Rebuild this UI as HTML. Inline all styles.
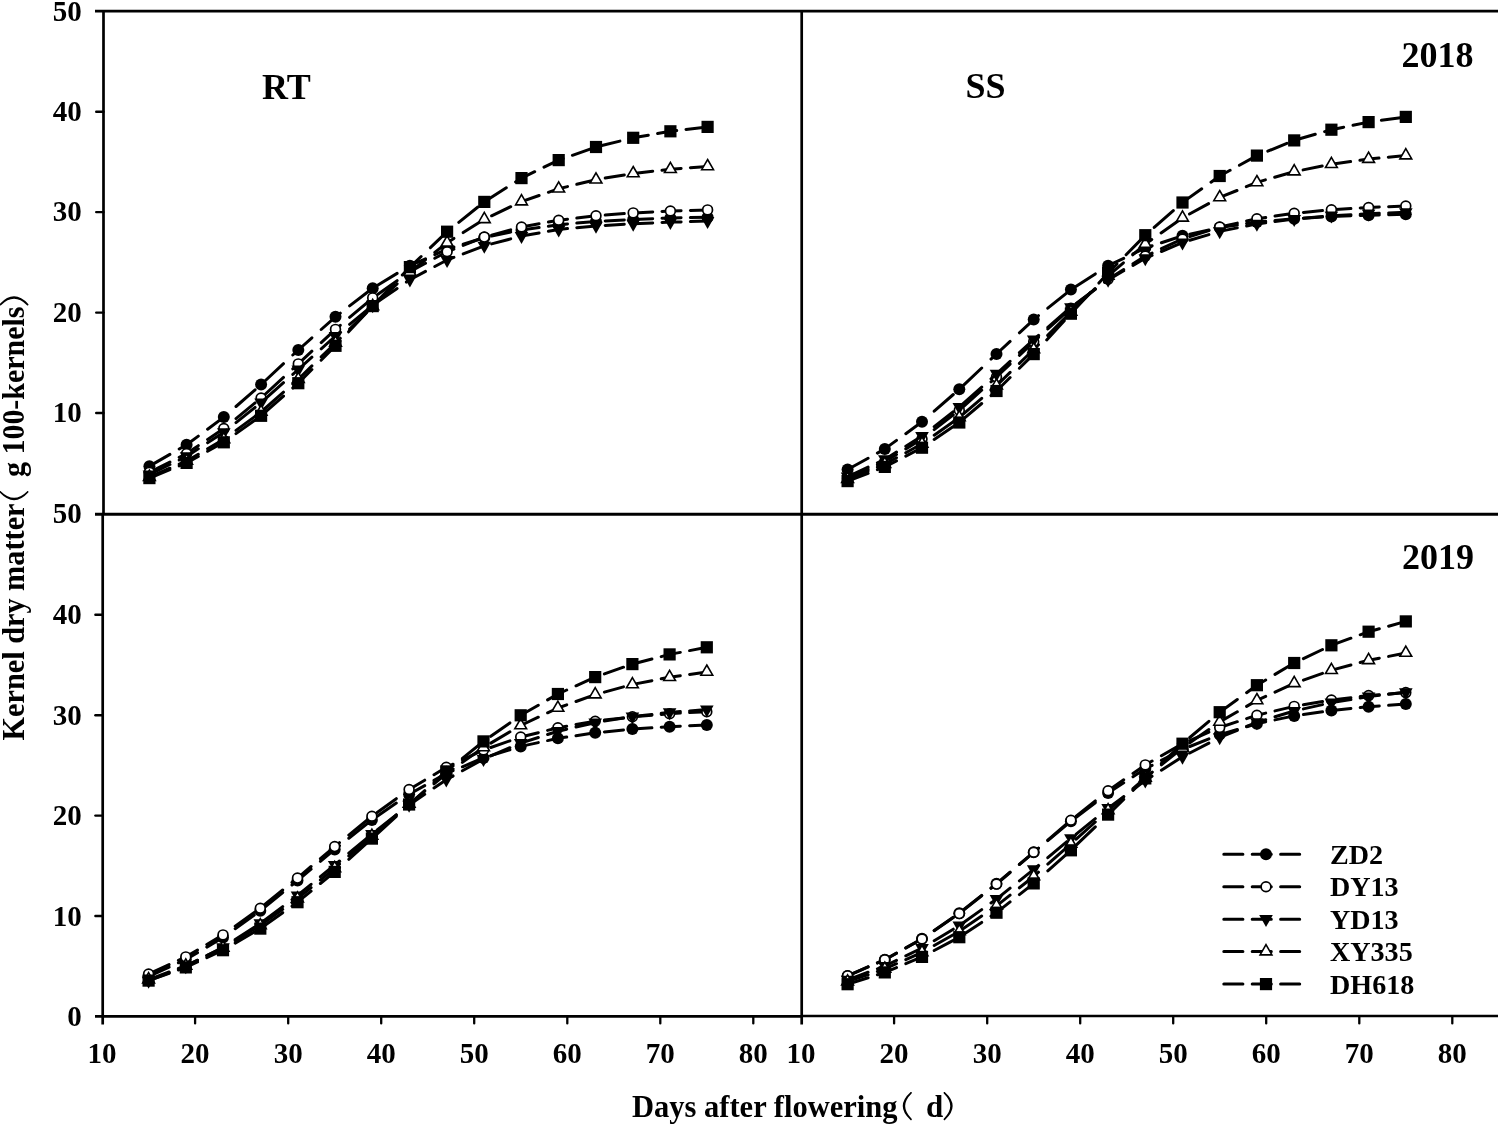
<!DOCTYPE html>
<html><head><meta charset="utf-8"><title>Kernel dry matter</title><style>html,body{margin:0;padding:0;background:#fff}svg{display:block;will-change:transform;filter:grayscale(1)}text{font-family:'Liberation Serif',serif;font-weight:bold;fill:#000}</style></head><body>
<svg width="1498" height="1124" viewBox="0 0 1498 1124">
<rect width="1498" height="1124" fill="#fff"/>
<g stroke="#000" stroke-width="2.7" fill="none" stroke-linecap="butt">
<line x1="95" y1="11.2" x2="1498" y2="11.2"/>
<line x1="95" y1="514.3" x2="1498" y2="514.3" stroke-width="3"/>
<line x1="95" y1="1016.4" x2="801.7" y2="1016.4"/>
<line x1="801.7" y1="1016" x2="1498" y2="1016" stroke-width="2.5"/>
<line x1="103.5" y1="9.9" x2="103.5" y2="514.3"/>
<line x1="102.7" y1="513" x2="102.7" y2="1024.5"/>
<line x1="801.7" y1="9.9" x2="801.7" y2="1024.5"/>
<line x1="96.2" y1="413.0" x2="103.5" y2="413.0" stroke-width="2.4" stroke-linecap="round"/>
<line x1="95.4" y1="916.0" x2="102.7" y2="916.0" stroke-width="2.4" stroke-linecap="round"/>
<line x1="96.2" y1="312.6" x2="103.5" y2="312.6" stroke-width="2.4" stroke-linecap="round"/>
<line x1="95.4" y1="815.6" x2="102.7" y2="815.6" stroke-width="2.4" stroke-linecap="round"/>
<line x1="96.2" y1="212.1" x2="103.5" y2="212.1" stroke-width="2.4" stroke-linecap="round"/>
<line x1="95.4" y1="715.2" x2="102.7" y2="715.2" stroke-width="2.4" stroke-linecap="round"/>
<line x1="96.2" y1="111.7" x2="103.5" y2="111.7" stroke-width="2.4" stroke-linecap="round"/>
<line x1="95.4" y1="614.8" x2="102.7" y2="614.8" stroke-width="2.4" stroke-linecap="round"/>
<line x1="195.1" y1="1016.4" x2="195.1" y2="1023.4" stroke-width="2.3" stroke-linecap="round"/>
<line x1="288.2" y1="1016.4" x2="288.2" y2="1023.4" stroke-width="2.3" stroke-linecap="round"/>
<line x1="381.2" y1="1016.4" x2="381.2" y2="1023.4" stroke-width="2.3" stroke-linecap="round"/>
<line x1="474.2" y1="1016.4" x2="474.2" y2="1023.4" stroke-width="2.3" stroke-linecap="round"/>
<line x1="567.3" y1="1016.4" x2="567.3" y2="1023.4" stroke-width="2.3" stroke-linecap="round"/>
<line x1="660.3" y1="1016.4" x2="660.3" y2="1023.4" stroke-width="2.3" stroke-linecap="round"/>
<line x1="753.3" y1="1016.4" x2="753.3" y2="1023.4" stroke-width="2.3" stroke-linecap="round"/>
<line x1="894.1" y1="1016.4" x2="894.1" y2="1023.4" stroke-width="2.3" stroke-linecap="round"/>
<line x1="987.2" y1="1016.4" x2="987.2" y2="1023.4" stroke-width="2.3" stroke-linecap="round"/>
<line x1="1080.2" y1="1016.4" x2="1080.2" y2="1023.4" stroke-width="2.3" stroke-linecap="round"/>
<line x1="1173.2" y1="1016.4" x2="1173.2" y2="1023.4" stroke-width="2.3" stroke-linecap="round"/>
<line x1="1266.2" y1="1016.4" x2="1266.2" y2="1023.4" stroke-width="2.3" stroke-linecap="round"/>
<line x1="1359.3" y1="1016.4" x2="1359.3" y2="1023.4" stroke-width="2.3" stroke-linecap="round"/>
<line x1="1452.3" y1="1016.4" x2="1452.3" y2="1023.4" stroke-width="2.3" stroke-linecap="round"/>
</g>
<g font-size="29" text-anchor="end">
<text x="81.8" y="20.5">50</text>
<text x="81.8" y="121.0">40</text>
<text x="81.8" y="221.4">30</text>
<text x="81.8" y="321.9">20</text>
<text x="81.8" y="422.3">10</text>
<text x="81.8" y="523.2">50</text>
<text x="81.8" y="624.3">40</text>
<text x="81.8" y="724.7">30</text>
<text x="81.8" y="825.1">20</text>
<text x="81.8" y="925.5">10</text>
<text x="81.8" y="1025.9">0</text>
</g>
<g font-size="29" text-anchor="middle">
<text x="102.1" y="1062.8">10</text>
<text x="195.1" y="1062.8">20</text>
<text x="288.2" y="1062.8">30</text>
<text x="381.2" y="1062.8">40</text>
<text x="474.2" y="1062.8">50</text>
<text x="567.3" y="1062.8">60</text>
<text x="660.3" y="1062.8">70</text>
<text x="753.3" y="1062.8">80</text>
<text x="801.1" y="1062.8">10</text>
<text x="894.1" y="1062.8">20</text>
<text x="987.2" y="1062.8">30</text>
<text x="1080.2" y="1062.8">40</text>
<text x="1173.2" y="1062.8">50</text>
<text x="1266.2" y="1062.8">60</text>
<text x="1359.3" y="1062.8">70</text>
<text x="1452.3" y="1062.8">80</text>
</g>
<g font-size="36">
<text x="262" y="98.7">RT</text>
<text x="965.5" y="98.2">SS</text>
<text x="1401.5" y="66.5">2018</text>
<text x="1402" y="568.5">2019</text>
</g>
<g font-size="31">
<text x="632" y="1117.3" textLength="265.5" lengthAdjust="spacingAndGlyphs">Days after flowering</text>
<text x="926" y="1117.3">d</text>
<path d="M911 1092.8 Q896.2 1106 911 1119.3 M911 1092.8 Q897.6 1106 911 1119.3 M944.4 1092.8 Q959.2 1106 944.4 1119.3 M944.4 1092.8 Q957.8 1106 944.4 1119.3" fill="none" stroke="#000" stroke-width="1.7" stroke-linecap="round"/>
<g transform="translate(23.6,0) rotate(-90)">
<text x="-740.5" y="0" textLength="237" lengthAdjust="spacingAndGlyphs">Kernel dry matter</text>
<text x="-477" y="0" textLength="170.5" lengthAdjust="spacingAndGlyphs">g 100-kernels</text>
<path d="M-492 -23.2 Q-506.8 -9.5 -492 4 M-492 -23.2 Q-505.4 -9.5 -492 4 M-304.6 -23.2 Q-289.8 -9.5 -304.6 4 M-304.6 -23.2 Q-291.2 -9.5 -304.6 4" fill="none" stroke="#000" stroke-width="1.7" stroke-linecap="round"/>
</g></g>
<g>
<path d="M150.8 465.4L169.9 454.4M179.2 449.0L186.6 444.7L198.3 436.1M207.6 429.2L223.8 417.1L226.7 414.6M236.0 406.5L255.1 389.8M264.4 381.5L283.5 363.7M292.8 355.0L298.3 350.0L311.9 337.8M321.2 329.5L335.5 316.8L340.3 313.1M349.6 305.9L368.7 291.3M378.0 285.0L397.1 273.4M406.4 267.8L409.9 265.7L425.5 258.8M434.8 254.6L447.1 249.1L453.9 247.0M463.2 244.2L482.3 238.2M491.6 236.1L510.7 232.1M520.0 230.2L521.5 229.9L539.1 227.5M548.4 226.2L558.7 224.8L567.5 224.0M576.8 223.1L595.9 221.4M605.2 220.9L624.3 219.9M633.6 219.4L652.7 218.7M662.0 218.3L670.4 218.0L681.1 217.8M690.4 217.6L707.6 217.2" fill="none" stroke="#000" stroke-width="3.0" stroke-linecap="round" stroke-linejoin="round"/>
<circle cx="149.4" cy="466.2" r="6" fill="#000"/>
<circle cx="186.6" cy="444.7" r="6" fill="#000"/>
<circle cx="223.8" cy="417.1" r="6" fill="#000"/>
<circle cx="261.1" cy="384.6" r="6" fill="#000"/>
<circle cx="298.3" cy="350.0" r="6" fill="#000"/>
<circle cx="335.5" cy="316.8" r="6" fill="#000"/>
<circle cx="372.7" cy="288.2" r="6" fill="#000"/>
<circle cx="409.9" cy="265.7" r="6" fill="#000"/>
<circle cx="447.1" cy="249.1" r="6" fill="#000"/>
<circle cx="484.3" cy="237.6" r="6" fill="#000"/>
<circle cx="521.5" cy="229.9" r="6" fill="#000"/>
<circle cx="558.7" cy="224.8" r="6" fill="#000"/>
<circle cx="596.0" cy="221.4" r="6" fill="#000"/>
<circle cx="633.2" cy="219.4" r="6" fill="#000"/>
<circle cx="670.4" cy="218.0" r="6" fill="#000"/>
<circle cx="707.6" cy="217.2" r="6" fill="#000"/>
<path d="M150.8 471.7L169.9 462.0M179.2 457.3L186.6 453.6L198.3 445.7M207.6 439.5L223.8 428.6L226.7 426.2M236.0 418.6L255.1 402.9M264.4 395.0L283.5 377.4M292.8 368.9L298.3 363.9L311.9 351.2M321.2 342.6L335.5 329.4L340.3 325.3M349.6 317.4L368.7 301.3M378.0 294.2L397.1 280.7M406.4 274.2L409.9 271.7L425.5 263.3M434.8 258.3L447.1 251.7L453.9 249.0M463.2 245.4L482.3 237.9M491.6 235.1L510.7 229.9M520.0 227.4L521.5 227.0L539.1 223.8M548.4 222.1L558.7 220.2L567.5 219.2M576.8 218.1L595.9 215.8M605.2 215.1L624.3 213.6M633.6 212.9L652.7 211.9M662.0 211.4L670.4 211.0L681.1 210.7M690.4 210.4L707.6 209.9" fill="none" stroke="#000" stroke-width="3.0" stroke-linecap="round" stroke-linejoin="round"/>
<circle cx="149.4" cy="472.4" r="4.9" fill="#fff" stroke="#000" stroke-width="1.7"/>
<circle cx="186.6" cy="453.6" r="4.9" fill="#fff" stroke="#000" stroke-width="1.7"/>
<circle cx="223.8" cy="428.6" r="4.9" fill="#fff" stroke="#000" stroke-width="1.7"/>
<circle cx="261.1" cy="398.0" r="4.9" fill="#fff" stroke="#000" stroke-width="1.7"/>
<circle cx="298.3" cy="363.9" r="4.9" fill="#fff" stroke="#000" stroke-width="1.7"/>
<circle cx="335.5" cy="329.4" r="4.9" fill="#fff" stroke="#000" stroke-width="1.7"/>
<circle cx="372.7" cy="297.9" r="4.9" fill="#fff" stroke="#000" stroke-width="1.7"/>
<circle cx="409.9" cy="271.7" r="4.9" fill="#fff" stroke="#000" stroke-width="1.7"/>
<circle cx="447.1" cy="251.7" r="4.9" fill="#fff" stroke="#000" stroke-width="1.7"/>
<circle cx="484.3" cy="237.1" r="4.9" fill="#fff" stroke="#000" stroke-width="1.7"/>
<circle cx="521.5" cy="227.0" r="4.9" fill="#fff" stroke="#000" stroke-width="1.7"/>
<circle cx="558.7" cy="220.2" r="4.9" fill="#fff" stroke="#000" stroke-width="1.7"/>
<circle cx="596.0" cy="215.8" r="4.9" fill="#fff" stroke="#000" stroke-width="1.7"/>
<circle cx="633.2" cy="212.9" r="4.9" fill="#fff" stroke="#000" stroke-width="1.7"/>
<circle cx="670.4" cy="211.0" r="4.9" fill="#fff" stroke="#000" stroke-width="1.7"/>
<circle cx="707.6" cy="209.9" r="4.9" fill="#fff" stroke="#000" stroke-width="1.7"/>
<path d="M150.8 473.9L169.9 464.5M179.2 460.0L186.6 456.4L198.3 448.8M207.6 442.8L223.8 432.3L226.7 430.0M236.0 422.6L255.1 407.4M264.4 399.7L283.5 382.7M292.8 374.4L298.3 369.5L311.9 357.2M321.2 348.8L335.5 336.0L340.3 332.0M349.6 324.3L368.7 308.6M378.0 301.6L397.1 288.5M406.4 282.1L409.9 279.7L425.5 271.4M434.8 266.5L447.1 260.0L453.9 257.4M463.2 253.9L482.3 246.6M491.6 243.9L510.7 238.9M520.0 236.4L521.5 236.0L539.1 232.9M548.4 231.3L558.7 229.5L567.5 228.6M576.8 227.7L595.9 225.9M605.2 225.4L624.3 224.3M633.6 223.8L652.7 223.0M662.0 222.5L670.4 222.1L681.1 221.9M690.4 221.6L707.6 221.1" fill="none" stroke="#000" stroke-width="3.0" stroke-linecap="round" stroke-linejoin="round"/>
<path d="M142.6 470.4L156.2 470.4L149.4 482.4Z" fill="#000"/>
<path d="M179.8 452.3L193.4 452.3L186.6 464.3Z" fill="#000"/>
<path d="M217.0 428.2L230.6 428.2L223.8 440.2Z" fill="#000"/>
<path d="M254.3 398.6L267.9 398.6L261.1 410.6Z" fill="#000"/>
<path d="M291.5 365.4L305.1 365.4L298.3 377.4Z" fill="#000"/>
<path d="M328.7 331.9L342.3 331.9L335.5 343.9Z" fill="#000"/>
<path d="M365.9 301.2L379.5 301.2L372.7 313.2Z" fill="#000"/>
<path d="M403.1 275.6L416.7 275.6L409.9 287.6Z" fill="#000"/>
<path d="M440.3 255.9L453.9 255.9L447.1 267.9Z" fill="#000"/>
<path d="M477.5 241.7L491.1 241.7L484.3 253.7Z" fill="#000"/>
<path d="M514.7 231.9L528.3 231.9L521.5 243.9Z" fill="#000"/>
<path d="M551.9 225.4L565.5 225.4L558.7 237.4Z" fill="#000"/>
<path d="M589.2 221.8L602.8 221.8L596.0 233.8Z" fill="#000"/>
<path d="M626.4 219.7L640.0 219.7L633.2 231.7Z" fill="#000"/>
<path d="M663.6 218.0L677.2 218.0L670.4 230.0Z" fill="#000"/>
<path d="M700.8 217.0L714.4 217.0L707.6 229.0Z" fill="#000"/>
<path d="M150.8 476.5L169.9 468.2M179.2 464.2L186.6 461.0L198.3 454.2M207.6 448.8L223.8 439.4L226.7 437.3M236.0 430.4L255.1 416.4M264.4 409.0L283.5 392.2M292.8 384.0L298.3 379.2L311.9 365.9M321.2 356.9L335.5 343.0L340.3 338.2M349.6 329.1L368.7 310.2M378.0 301.4L397.1 283.8M406.4 275.2L409.9 272.0L425.5 259.7M434.8 252.4L447.1 242.7L453.9 238.4M463.2 232.6L482.3 220.6M491.6 215.8L510.7 206.7M520.0 202.3L521.5 201.6L539.1 195.5M548.4 192.3L558.7 188.7L567.5 186.6M576.8 184.3L595.9 179.7M605.2 178.1L624.3 174.9M633.6 173.4L652.7 171.2M662.0 170.2L670.4 169.2L681.1 168.4M690.4 167.7L707.6 166.4" fill="none" stroke="#000" stroke-width="3.0" stroke-linecap="round" stroke-linejoin="round"/>
<path d="M149.4 470.2L155.3 480.4L143.5 480.4Z" fill="#fff" stroke="#000" stroke-width="1.6" stroke-linejoin="miter"/>
<path d="M186.6 454.1L192.5 464.3L180.7 464.3Z" fill="#fff" stroke="#000" stroke-width="1.6" stroke-linejoin="miter"/>
<path d="M223.8 432.5L229.7 442.7L217.9 442.7Z" fill="#fff" stroke="#000" stroke-width="1.6" stroke-linejoin="miter"/>
<path d="M261.1 405.1L267.0 415.3L255.2 415.3Z" fill="#fff" stroke="#000" stroke-width="1.6" stroke-linejoin="miter"/>
<path d="M298.3 372.3L304.2 382.5L292.4 382.5Z" fill="#fff" stroke="#000" stroke-width="1.6" stroke-linejoin="miter"/>
<path d="M335.5 336.1L341.4 346.3L329.6 346.3Z" fill="#fff" stroke="#000" stroke-width="1.6" stroke-linejoin="miter"/>
<path d="M372.7 299.4L378.6 309.6L366.8 309.6Z" fill="#fff" stroke="#000" stroke-width="1.6" stroke-linejoin="miter"/>
<path d="M409.9 265.1L415.8 275.3L404.0 275.3Z" fill="#fff" stroke="#000" stroke-width="1.6" stroke-linejoin="miter"/>
<path d="M447.1 235.8L453.0 246.0L441.2 246.0Z" fill="#fff" stroke="#000" stroke-width="1.6" stroke-linejoin="miter"/>
<path d="M484.3 212.4L490.2 222.6L478.4 222.6Z" fill="#fff" stroke="#000" stroke-width="1.6" stroke-linejoin="miter"/>
<path d="M521.5 194.7L527.4 204.9L515.6 204.9Z" fill="#fff" stroke="#000" stroke-width="1.6" stroke-linejoin="miter"/>
<path d="M558.7 181.8L564.6 192.0L552.8 192.0Z" fill="#fff" stroke="#000" stroke-width="1.6" stroke-linejoin="miter"/>
<path d="M596.0 172.8L601.9 183.0L590.1 183.0Z" fill="#fff" stroke="#000" stroke-width="1.6" stroke-linejoin="miter"/>
<path d="M633.2 166.5L639.1 176.7L627.3 176.7Z" fill="#fff" stroke="#000" stroke-width="1.6" stroke-linejoin="miter"/>
<path d="M670.4 162.3L676.3 172.5L664.5 172.5Z" fill="#fff" stroke="#000" stroke-width="1.6" stroke-linejoin="miter"/>
<path d="M707.6 159.5L713.5 169.7L701.7 169.7Z" fill="#fff" stroke="#000" stroke-width="1.6" stroke-linejoin="miter"/>
<path d="M150.8 477.5L169.9 469.7M179.2 465.9L186.6 462.9L198.3 456.4M207.6 451.3L223.8 442.3L226.7 440.3M236.0 433.6L255.1 420.0M264.4 412.9L283.5 396.1M292.8 388.0L298.3 383.2L311.9 369.5M321.1 360.2L335.5 345.8L339.9 341.1M348.6 331.8L366.5 312.7M375.2 303.4L393.5 284.3M402.3 275.0L409.9 267.1L421.1 256.5M430.4 247.6L447.1 231.7L449.5 229.8M458.8 222.3L477.9 207.0M487.2 200.0L506.3 187.8M515.6 181.9L521.5 178.1L534.7 171.7M544.0 167.2L558.7 160.1L563.1 158.6M572.4 155.3L591.5 148.6M600.8 145.8L619.9 141.1M629.2 138.8L633.2 137.8L648.3 135.2M657.6 133.5L670.4 131.3L676.7 130.5M686.0 129.4L705.1 127.2" fill="none" stroke="#000" stroke-width="3.0" stroke-linecap="round" stroke-linejoin="round"/>
<rect x="143.3" y="472.0" width="12.2" height="12.2" fill="#000"/>
<rect x="180.5" y="456.8" width="12.2" height="12.2" fill="#000"/>
<rect x="217.7" y="436.2" width="12.2" height="12.2" fill="#000"/>
<rect x="255.0" y="409.7" width="12.2" height="12.2" fill="#000"/>
<rect x="292.2" y="377.1" width="12.2" height="12.2" fill="#000"/>
<rect x="329.4" y="339.7" width="12.2" height="12.2" fill="#000"/>
<rect x="366.6" y="300.0" width="12.2" height="12.2" fill="#000"/>
<rect x="403.8" y="261.0" width="12.2" height="12.2" fill="#000"/>
<rect x="441.0" y="225.6" width="12.2" height="12.2" fill="#000"/>
<rect x="478.2" y="195.8" width="12.2" height="12.2" fill="#000"/>
<rect x="515.4" y="172.0" width="12.2" height="12.2" fill="#000"/>
<rect x="552.6" y="154.0" width="12.2" height="12.2" fill="#000"/>
<rect x="589.9" y="140.9" width="12.2" height="12.2" fill="#000"/>
<rect x="627.1" y="131.7" width="12.2" height="12.2" fill="#000"/>
<rect x="664.3" y="125.2" width="12.2" height="12.2" fill="#000"/>
<rect x="701.5" y="120.8" width="12.2" height="12.2" fill="#000"/>
</g>
<g>
<path d="M849.0 468.8L868.1 458.2M877.4 453.1L884.8 448.9L896.5 440.4M905.8 433.7L922.0 421.8L924.9 419.3M934.2 411.2L953.3 394.5M962.6 386.1L981.7 368.0M991.0 359.1L996.5 354.0L1010.1 341.4M1019.4 332.8L1033.7 319.6L1038.5 315.7M1047.8 308.2L1066.9 292.8M1076.2 286.2L1095.3 273.9M1104.6 268.0L1108.1 265.7L1123.7 258.3M1133.0 253.9L1145.3 248.0L1152.1 245.8M1161.4 242.7L1180.5 236.5M1189.8 234.2L1208.9 230.0M1218.2 227.9L1219.7 227.6L1237.3 225.0M1246.6 223.6L1256.9 222.1L1265.7 221.3M1275.0 220.5L1294.1 218.7M1303.4 218.2L1322.5 217.0M1331.8 216.5L1350.9 215.8M1360.2 215.5L1368.6 215.2L1379.3 215.0M1388.6 214.7L1405.8 214.3" fill="none" stroke="#000" stroke-width="3.0" stroke-linecap="round" stroke-linejoin="round"/>
<circle cx="847.6" cy="469.6" r="6" fill="#000"/>
<circle cx="884.8" cy="448.9" r="6" fill="#000"/>
<circle cx="922.0" cy="421.8" r="6" fill="#000"/>
<circle cx="959.3" cy="389.3" r="6" fill="#000"/>
<circle cx="996.5" cy="354.0" r="6" fill="#000"/>
<circle cx="1033.7" cy="319.6" r="6" fill="#000"/>
<circle cx="1070.9" cy="289.6" r="6" fill="#000"/>
<circle cx="1108.1" cy="265.7" r="6" fill="#000"/>
<circle cx="1145.3" cy="248.0" r="6" fill="#000"/>
<circle cx="1182.5" cy="235.8" r="6" fill="#000"/>
<circle cx="1219.7" cy="227.6" r="6" fill="#000"/>
<circle cx="1256.9" cy="222.1" r="6" fill="#000"/>
<circle cx="1294.2" cy="218.7" r="6" fill="#000"/>
<circle cx="1331.4" cy="216.5" r="6" fill="#000"/>
<circle cx="1368.6" cy="215.2" r="6" fill="#000"/>
<circle cx="1405.8" cy="214.3" r="6" fill="#000"/>
<path d="M849.0 477.7L868.1 469.1M877.4 464.9L884.8 461.6L896.5 454.5M905.8 448.9L922.0 439.0L924.9 436.8M934.2 429.6L953.3 414.9M962.6 407.3L981.7 390.2M991.0 381.8L996.5 377.0L1010.1 364.1M1019.4 355.3L1033.7 341.8L1038.5 337.4M1047.8 329.0L1066.9 311.8M1076.2 304.0L1095.3 289.1M1104.6 281.9L1108.1 279.2L1123.7 269.5M1133.0 263.7L1145.3 256.1L1152.1 253.0M1161.4 248.7L1180.5 239.9M1189.8 236.6L1208.9 230.5M1218.2 227.5L1219.7 227.0L1237.3 223.1M1246.6 221.0L1256.9 218.7L1265.7 217.5M1275.0 216.1L1294.1 213.3M1303.4 212.4L1322.5 210.6M1331.8 209.8L1350.9 208.6M1360.2 208.0L1368.6 207.5L1379.3 207.0M1388.6 206.7L1405.8 206.0" fill="none" stroke="#000" stroke-width="3.0" stroke-linecap="round" stroke-linejoin="round"/>
<circle cx="847.6" cy="478.4" r="4.9" fill="#fff" stroke="#000" stroke-width="1.7"/>
<circle cx="884.8" cy="461.6" r="4.9" fill="#fff" stroke="#000" stroke-width="1.7"/>
<circle cx="922.0" cy="439.0" r="4.9" fill="#fff" stroke="#000" stroke-width="1.7"/>
<circle cx="959.3" cy="410.3" r="4.9" fill="#fff" stroke="#000" stroke-width="1.7"/>
<circle cx="996.5" cy="377.0" r="4.9" fill="#fff" stroke="#000" stroke-width="1.7"/>
<circle cx="1033.7" cy="341.8" r="4.9" fill="#fff" stroke="#000" stroke-width="1.7"/>
<circle cx="1070.9" cy="308.2" r="4.9" fill="#fff" stroke="#000" stroke-width="1.7"/>
<circle cx="1108.1" cy="279.2" r="4.9" fill="#fff" stroke="#000" stroke-width="1.7"/>
<circle cx="1145.3" cy="256.1" r="4.9" fill="#fff" stroke="#000" stroke-width="1.7"/>
<circle cx="1182.5" cy="239.0" r="4.9" fill="#fff" stroke="#000" stroke-width="1.7"/>
<circle cx="1219.7" cy="227.0" r="4.9" fill="#fff" stroke="#000" stroke-width="1.7"/>
<circle cx="1256.9" cy="218.7" r="4.9" fill="#fff" stroke="#000" stroke-width="1.7"/>
<circle cx="1294.2" cy="213.3" r="4.9" fill="#fff" stroke="#000" stroke-width="1.7"/>
<circle cx="1331.4" cy="209.8" r="4.9" fill="#fff" stroke="#000" stroke-width="1.7"/>
<circle cx="1368.6" cy="207.5" r="4.9" fill="#fff" stroke="#000" stroke-width="1.7"/>
<circle cx="1405.8" cy="206.0" r="4.9" fill="#fff" stroke="#000" stroke-width="1.7"/>
<path d="M849.0 476.0L868.1 467.1M877.4 462.8L884.8 459.4L896.5 452.1M905.8 446.2L922.0 436.1L924.9 433.9M934.2 426.6L953.3 411.8M962.6 404.2L981.7 387.1M991.0 378.8L996.5 373.9L1010.1 361.3M1019.4 352.7L1033.7 339.5L1038.5 335.3M1047.8 327.3L1066.9 310.7M1076.2 303.4L1095.3 289.3M1104.6 282.4L1108.1 279.9L1123.7 270.8M1133.0 265.4L1145.3 258.3L1152.1 255.4M1161.4 251.5L1180.5 243.4M1189.8 240.3L1208.9 234.6M1218.2 231.8L1219.7 231.4L1237.3 227.9M1246.6 226.0L1256.9 223.9L1265.7 222.8M1275.0 221.6L1294.1 219.0M1303.4 218.2L1322.5 216.5M1331.8 215.7L1350.9 214.7M1360.2 214.2L1368.6 213.7L1379.3 213.3M1388.6 213.0L1405.8 212.3" fill="none" stroke="#000" stroke-width="3.0" stroke-linecap="round" stroke-linejoin="round"/>
<path d="M840.8 472.6L854.4 472.6L847.6 484.6Z" fill="#000"/>
<path d="M878.0 455.3L891.6 455.3L884.8 467.3Z" fill="#000"/>
<path d="M915.2 432.0L928.8 432.0L922.0 444.0Z" fill="#000"/>
<path d="M952.5 403.1L966.1 403.1L959.3 415.1Z" fill="#000"/>
<path d="M989.7 369.8L1003.3 369.8L996.5 381.8Z" fill="#000"/>
<path d="M1026.9 335.4L1040.5 335.4L1033.7 347.4Z" fill="#000"/>
<path d="M1064.1 303.2L1077.7 303.2L1070.9 315.2Z" fill="#000"/>
<path d="M1101.3 275.8L1114.9 275.8L1108.1 287.8Z" fill="#000"/>
<path d="M1138.5 254.2L1152.1 254.2L1145.3 266.2Z" fill="#000"/>
<path d="M1175.7 238.4L1189.3 238.4L1182.5 250.4Z" fill="#000"/>
<path d="M1212.9 227.3L1226.5 227.3L1219.7 239.3Z" fill="#000"/>
<path d="M1250.1 219.8L1263.7 219.8L1256.9 231.8Z" fill="#000"/>
<path d="M1287.4 214.9L1301.0 214.9L1294.2 226.9Z" fill="#000"/>
<path d="M1324.6 211.6L1338.2 211.6L1331.4 223.6Z" fill="#000"/>
<path d="M1361.8 209.6L1375.4 209.6L1368.6 221.6Z" fill="#000"/>
<path d="M1399.0 208.2L1412.6 208.2L1405.8 220.2Z" fill="#000"/>
<path d="M849.0 478.6L868.1 470.9M877.4 467.1L884.8 464.1L896.5 457.7M905.8 452.7L922.0 443.8L924.9 441.8M934.2 435.2L953.3 421.7M962.6 414.6L981.7 398.3M991.0 390.4L996.5 385.7L1010.1 372.4M1019.4 363.4L1033.7 349.5L1038.5 344.7M1047.7 335.4L1066.6 316.3M1075.9 307.2L1095.0 288.6M1104.3 279.6L1108.1 275.9L1123.4 262.8M1132.7 254.8L1145.3 244.0L1151.8 239.5M1161.1 232.9L1180.2 219.5M1189.5 214.0L1208.6 203.6M1217.9 198.5L1219.7 197.4L1237.0 190.5M1246.3 186.7L1256.9 182.4L1265.4 179.9M1274.7 177.3L1293.8 171.8M1303.1 169.9L1322.2 166.0M1331.5 164.2L1350.6 161.6M1359.9 160.3L1368.6 159.1L1379.0 158.1M1388.3 157.2L1405.8 155.6" fill="none" stroke="#000" stroke-width="3.0" stroke-linecap="round" stroke-linejoin="round"/>
<path d="M847.6 472.3L853.5 482.5L841.7 482.5Z" fill="#fff" stroke="#000" stroke-width="1.6" stroke-linejoin="miter"/>
<path d="M884.8 457.2L890.7 467.4L878.9 467.4Z" fill="#fff" stroke="#000" stroke-width="1.6" stroke-linejoin="miter"/>
<path d="M922.0 436.9L927.9 447.1L916.1 447.1Z" fill="#fff" stroke="#000" stroke-width="1.6" stroke-linejoin="miter"/>
<path d="M959.3 410.6L965.2 420.8L953.4 420.8Z" fill="#fff" stroke="#000" stroke-width="1.6" stroke-linejoin="miter"/>
<path d="M996.5 378.8L1002.4 389.0L990.6 389.0Z" fill="#fff" stroke="#000" stroke-width="1.6" stroke-linejoin="miter"/>
<path d="M1033.7 342.6L1039.6 352.8L1027.8 352.8Z" fill="#fff" stroke="#000" stroke-width="1.6" stroke-linejoin="miter"/>
<path d="M1070.9 305.1L1076.8 315.3L1065.0 315.3Z" fill="#fff" stroke="#000" stroke-width="1.6" stroke-linejoin="miter"/>
<path d="M1108.1 269.0L1114.0 279.2L1102.2 279.2Z" fill="#fff" stroke="#000" stroke-width="1.6" stroke-linejoin="miter"/>
<path d="M1145.3 237.1L1151.2 247.3L1139.4 247.3Z" fill="#fff" stroke="#000" stroke-width="1.6" stroke-linejoin="miter"/>
<path d="M1182.5 210.9L1188.4 221.1L1176.6 221.1Z" fill="#fff" stroke="#000" stroke-width="1.6" stroke-linejoin="miter"/>
<path d="M1219.7 190.5L1225.6 200.7L1213.8 200.7Z" fill="#fff" stroke="#000" stroke-width="1.6" stroke-linejoin="miter"/>
<path d="M1256.9 175.5L1262.8 185.7L1251.0 185.7Z" fill="#fff" stroke="#000" stroke-width="1.6" stroke-linejoin="miter"/>
<path d="M1294.2 164.7L1300.1 174.9L1288.3 174.9Z" fill="#fff" stroke="#000" stroke-width="1.6" stroke-linejoin="miter"/>
<path d="M1331.4 157.3L1337.3 167.5L1325.5 167.5Z" fill="#fff" stroke="#000" stroke-width="1.6" stroke-linejoin="miter"/>
<path d="M1368.6 152.2L1374.5 162.4L1362.7 162.4Z" fill="#fff" stroke="#000" stroke-width="1.6" stroke-linejoin="miter"/>
<path d="M1405.8 148.7L1411.7 158.9L1399.9 158.9Z" fill="#fff" stroke="#000" stroke-width="1.6" stroke-linejoin="miter"/>
<path d="M849.0 480.5L868.1 473.3M877.4 469.7L884.8 466.9L896.5 460.9M905.8 456.1L922.0 447.7L924.9 445.8M934.2 439.5L953.3 426.6M962.6 419.7L981.7 403.5M991.0 395.6L996.5 391.0L1010.1 377.5M1019.4 368.2L1033.7 354.1L1038.1 349.2M1046.7 339.9L1064.3 320.8M1072.9 311.5L1090.4 292.4M1098.9 283.1L1108.1 273.0L1117.0 264.0M1126.1 254.7L1144.9 235.6M1154.2 227.4L1173.3 210.6M1182.6 202.4L1201.7 188.8M1211.0 182.2L1219.7 176.0L1230.1 170.3M1239.4 165.2L1256.9 155.6L1258.5 155.0M1267.8 151.2L1286.9 143.4M1296.2 139.8L1315.3 134.3M1324.6 131.6L1331.4 129.7L1343.7 127.2M1353.0 125.3L1368.6 122.1L1372.1 121.7M1381.4 120.3L1400.5 117.7" fill="none" stroke="#000" stroke-width="3.0" stroke-linecap="round" stroke-linejoin="round"/>
<rect x="841.5" y="475.0" width="12.2" height="12.2" fill="#000"/>
<rect x="878.7" y="460.8" width="12.2" height="12.2" fill="#000"/>
<rect x="915.9" y="441.6" width="12.2" height="12.2" fill="#000"/>
<rect x="953.2" y="416.4" width="12.2" height="12.2" fill="#000"/>
<rect x="990.4" y="384.9" width="12.2" height="12.2" fill="#000"/>
<rect x="1027.6" y="348.0" width="12.2" height="12.2" fill="#000"/>
<rect x="1064.8" y="307.6" width="12.2" height="12.2" fill="#000"/>
<rect x="1102.0" y="266.9" width="12.2" height="12.2" fill="#000"/>
<rect x="1139.2" y="229.1" width="12.2" height="12.2" fill="#000"/>
<rect x="1176.4" y="196.4" width="12.2" height="12.2" fill="#000"/>
<rect x="1213.6" y="169.9" width="12.2" height="12.2" fill="#000"/>
<rect x="1250.8" y="149.5" width="12.2" height="12.2" fill="#000"/>
<rect x="1288.1" y="134.3" width="12.2" height="12.2" fill="#000"/>
<rect x="1325.3" y="123.6" width="12.2" height="12.2" fill="#000"/>
<rect x="1362.5" y="116.0" width="12.2" height="12.2" fill="#000"/>
<rect x="1399.7" y="110.8" width="12.2" height="12.2" fill="#000"/>
</g>
<g>
<path d="M150.0 975.8L169.1 967.1M178.4 962.8L185.8 959.5L197.5 952.6M206.8 947.1L223.0 937.5L225.9 935.5M235.2 928.7L254.3 915.0M263.6 908.0L282.7 892.5M292.0 885.0L297.5 880.6L311.1 869.2M320.4 861.4L334.7 849.4L339.5 845.6M348.8 838.2L367.9 823.1M377.2 816.3L396.3 803.1M405.6 796.7L409.1 794.3L424.7 785.6M434.0 780.4L446.3 773.6L453.1 770.7M462.4 766.8L481.5 758.7M490.8 755.6L509.9 749.7M519.2 746.9L520.7 746.4L538.3 742.6M547.6 740.6L557.9 738.3L566.7 737.0M576.0 735.7L595.1 732.8M604.4 731.9L623.5 730.0M632.8 729.1L651.9 727.8M661.2 727.2L669.6 726.7L680.3 726.2M689.6 725.8L706.8 725.0" fill="none" stroke="#000" stroke-width="3.0" stroke-linecap="round" stroke-linejoin="round"/>
<circle cx="148.6" cy="976.5" r="6" fill="#000"/>
<circle cx="185.8" cy="959.5" r="6" fill="#000"/>
<circle cx="223.0" cy="937.5" r="6" fill="#000"/>
<circle cx="260.3" cy="910.7" r="6" fill="#000"/>
<circle cx="297.5" cy="880.6" r="6" fill="#000"/>
<circle cx="334.7" cy="849.4" r="6" fill="#000"/>
<circle cx="371.9" cy="819.9" r="6" fill="#000"/>
<circle cx="409.1" cy="794.3" r="6" fill="#000"/>
<circle cx="446.3" cy="773.6" r="6" fill="#000"/>
<circle cx="483.5" cy="757.9" r="6" fill="#000"/>
<circle cx="520.7" cy="746.4" r="6" fill="#000"/>
<circle cx="557.9" cy="738.3" r="6" fill="#000"/>
<circle cx="595.2" cy="732.8" r="6" fill="#000"/>
<circle cx="632.4" cy="729.1" r="6" fill="#000"/>
<circle cx="669.6" cy="726.7" r="6" fill="#000"/>
<circle cx="706.8" cy="725.0" r="6" fill="#000"/>
<path d="M150.0 973.4L169.1 964.6M178.4 960.4L185.8 956.9L197.5 950.0M206.8 944.5L223.0 934.9L225.9 932.8M235.2 926.2L254.3 912.4M263.6 905.4L282.7 890.0M292.0 882.5L297.5 878.1L311.1 866.5M320.4 858.7L334.7 846.6L339.5 842.7M348.8 835.1L367.9 819.5M377.2 812.5L396.3 798.7M405.6 792.1L409.1 789.5L424.7 780.2M434.0 774.7L446.3 767.3L453.1 764.2M462.4 759.8L481.5 750.9M490.8 747.5L509.9 740.8M519.2 737.6L520.7 737.0L538.3 732.7M547.6 730.4L557.9 727.8L566.7 726.2M576.0 724.6L595.1 721.2M604.4 720.1L623.5 717.9M632.8 716.8L651.9 715.2M661.2 714.4L669.6 713.7L680.3 713.1M689.6 712.6L706.8 711.7" fill="none" stroke="#000" stroke-width="3.0" stroke-linecap="round" stroke-linejoin="round"/>
<circle cx="148.6" cy="974.0" r="4.9" fill="#fff" stroke="#000" stroke-width="1.7"/>
<circle cx="185.8" cy="956.9" r="4.9" fill="#fff" stroke="#000" stroke-width="1.7"/>
<circle cx="223.0" cy="934.9" r="4.9" fill="#fff" stroke="#000" stroke-width="1.7"/>
<circle cx="260.3" cy="908.2" r="4.9" fill="#fff" stroke="#000" stroke-width="1.7"/>
<circle cx="297.5" cy="878.1" r="4.9" fill="#fff" stroke="#000" stroke-width="1.7"/>
<circle cx="334.7" cy="846.6" r="4.9" fill="#fff" stroke="#000" stroke-width="1.7"/>
<circle cx="371.9" cy="816.3" r="4.9" fill="#fff" stroke="#000" stroke-width="1.7"/>
<circle cx="409.1" cy="789.5" r="4.9" fill="#fff" stroke="#000" stroke-width="1.7"/>
<circle cx="446.3" cy="767.3" r="4.9" fill="#fff" stroke="#000" stroke-width="1.7"/>
<circle cx="483.5" cy="750.0" r="4.9" fill="#fff" stroke="#000" stroke-width="1.7"/>
<circle cx="520.7" cy="737.0" r="4.9" fill="#fff" stroke="#000" stroke-width="1.7"/>
<circle cx="557.9" cy="727.8" r="4.9" fill="#fff" stroke="#000" stroke-width="1.7"/>
<circle cx="595.2" cy="721.2" r="4.9" fill="#fff" stroke="#000" stroke-width="1.7"/>
<circle cx="632.4" cy="716.8" r="4.9" fill="#fff" stroke="#000" stroke-width="1.7"/>
<circle cx="669.6" cy="713.7" r="4.9" fill="#fff" stroke="#000" stroke-width="1.7"/>
<circle cx="706.8" cy="711.7" r="4.9" fill="#fff" stroke="#000" stroke-width="1.7"/>
<path d="M150.0 980.2L169.1 972.8M178.4 969.2L185.8 966.3L197.5 960.3M206.8 955.6L223.0 947.3L225.9 945.4M235.2 939.5L254.3 927.3M263.6 920.9L282.7 906.6M292.0 899.6L297.5 895.5L311.1 884.3M320.4 876.7L334.7 865.0L339.5 861.0M348.8 853.2L367.9 837.3M377.2 829.9L396.3 814.9M405.6 807.7L409.1 804.9L424.7 794.3M434.0 788.0L446.3 779.7L453.1 775.9M462.4 770.8L481.5 760.2M490.8 755.9L509.9 747.7M519.2 743.7L520.7 743.1L538.3 737.5M547.6 734.5L557.9 731.2L566.7 729.2M576.0 727.0L595.1 722.7M604.4 721.1L623.5 718.1M632.8 716.6L651.9 714.4M661.2 713.3L669.6 712.4L680.3 711.6M689.6 710.9L706.8 709.6" fill="none" stroke="#000" stroke-width="3.0" stroke-linecap="round" stroke-linejoin="round"/>
<path d="M141.8 976.7L155.4 976.7L148.6 988.7Z" fill="#000"/>
<path d="M179.0 962.2L192.6 962.2L185.8 974.2Z" fill="#000"/>
<path d="M216.2 943.2L229.8 943.2L223.0 955.2Z" fill="#000"/>
<path d="M253.5 919.3L267.1 919.3L260.3 931.3Z" fill="#000"/>
<path d="M290.7 891.4L304.3 891.4L297.5 903.4Z" fill="#000"/>
<path d="M327.9 860.9L341.5 860.9L334.7 872.9Z" fill="#000"/>
<path d="M365.1 829.9L378.7 829.9L371.9 841.9Z" fill="#000"/>
<path d="M402.3 800.8L415.9 800.8L409.1 812.8Z" fill="#000"/>
<path d="M439.5 775.6L453.1 775.6L446.3 787.6Z" fill="#000"/>
<path d="M476.7 755.0L490.3 755.0L483.5 767.0Z" fill="#000"/>
<path d="M513.9 739.0L527.5 739.0L520.7 751.0Z" fill="#000"/>
<path d="M551.1 727.1L564.7 727.1L557.9 739.1Z" fill="#000"/>
<path d="M588.4 718.6L602.0 718.6L595.2 730.6Z" fill="#000"/>
<path d="M625.6 712.5L639.2 712.5L632.4 724.5Z" fill="#000"/>
<path d="M662.8 708.3L676.4 708.3L669.6 720.3Z" fill="#000"/>
<path d="M700.0 705.5L713.6 705.5L706.8 717.5Z" fill="#000"/>
<path d="M150.0 979.1L169.1 972.0M178.4 968.5L185.8 965.8L197.5 960.2M206.8 955.7L223.0 947.9L225.9 946.2M235.2 940.6L254.3 929.0M263.6 923.0L282.7 909.3M292.0 902.6L297.5 898.7L311.1 887.6M320.4 880.0L334.7 868.3L339.5 864.1M348.8 856.0L367.9 839.5M377.2 831.4L396.3 814.9M405.6 806.8L409.1 803.8L424.7 791.3M434.0 783.8L446.3 773.9L453.1 769.0M462.4 762.4L481.5 748.8M490.8 743.1L509.9 731.8M519.2 726.4L520.7 725.5L538.3 717.2M547.6 712.8L557.9 708.0L566.7 704.8M576.0 701.5L595.1 694.6M604.4 692.1L623.5 686.9M632.8 684.4L651.9 680.7M661.2 678.8L669.6 677.2L680.3 675.7M689.6 674.4L706.8 671.9" fill="none" stroke="#000" stroke-width="3.0" stroke-linecap="round" stroke-linejoin="round"/>
<path d="M148.6 972.7L154.5 982.9L142.7 982.9Z" fill="#fff" stroke="#000" stroke-width="1.6" stroke-linejoin="miter"/>
<path d="M185.8 958.9L191.7 969.1L179.9 969.1Z" fill="#fff" stroke="#000" stroke-width="1.6" stroke-linejoin="miter"/>
<path d="M223.0 941.0L228.9 951.2L217.1 951.2Z" fill="#fff" stroke="#000" stroke-width="1.6" stroke-linejoin="miter"/>
<path d="M260.3 918.6L266.2 928.8L254.4 928.8Z" fill="#fff" stroke="#000" stroke-width="1.6" stroke-linejoin="miter"/>
<path d="M297.5 891.8L303.4 902.0L291.6 902.0Z" fill="#fff" stroke="#000" stroke-width="1.6" stroke-linejoin="miter"/>
<path d="M334.7 861.4L340.6 871.6L328.8 871.6Z" fill="#fff" stroke="#000" stroke-width="1.6" stroke-linejoin="miter"/>
<path d="M371.9 829.1L377.8 839.3L366.0 839.3Z" fill="#fff" stroke="#000" stroke-width="1.6" stroke-linejoin="miter"/>
<path d="M409.1 796.9L415.0 807.1L403.2 807.1Z" fill="#fff" stroke="#000" stroke-width="1.6" stroke-linejoin="miter"/>
<path d="M446.3 767.0L452.2 777.2L440.4 777.2Z" fill="#fff" stroke="#000" stroke-width="1.6" stroke-linejoin="miter"/>
<path d="M483.5 740.5L489.4 750.7L477.6 750.7Z" fill="#fff" stroke="#000" stroke-width="1.6" stroke-linejoin="miter"/>
<path d="M520.7 718.6L526.6 728.8L514.8 728.8Z" fill="#fff" stroke="#000" stroke-width="1.6" stroke-linejoin="miter"/>
<path d="M557.9 701.1L563.8 711.3L552.0 711.3Z" fill="#fff" stroke="#000" stroke-width="1.6" stroke-linejoin="miter"/>
<path d="M595.2 687.7L601.1 697.9L589.3 697.9Z" fill="#fff" stroke="#000" stroke-width="1.6" stroke-linejoin="miter"/>
<path d="M632.4 677.6L638.3 687.8L626.5 687.8Z" fill="#fff" stroke="#000" stroke-width="1.6" stroke-linejoin="miter"/>
<path d="M669.6 670.3L675.5 680.5L663.7 680.5Z" fill="#fff" stroke="#000" stroke-width="1.6" stroke-linejoin="miter"/>
<path d="M706.8 665.0L712.7 675.2L700.9 675.2Z" fill="#fff" stroke="#000" stroke-width="1.6" stroke-linejoin="miter"/>
<path d="M150.0 980.1L169.1 973.3M178.4 970.0L185.8 967.4L197.5 962.0M206.8 957.7L223.0 950.2L225.9 948.5M235.2 943.1L254.3 932.0M263.6 926.2L282.7 912.7M292.0 906.1L297.5 902.2L311.1 891.1M320.4 883.5L334.7 871.9L339.5 867.6M348.8 859.3L367.9 842.2M377.2 833.8L396.3 816.3M405.6 807.7L409.1 804.5L424.7 790.6M434.0 782.4L446.3 771.4L453.1 765.9M462.4 758.4L481.5 743.0M490.8 736.3L509.9 722.9M519.2 716.4L520.7 715.3L538.3 705.2M547.6 699.9L557.9 694.0L566.7 690.0M576.0 685.8L595.1 677.1M604.4 673.9L623.5 667.2M632.8 664.0L651.9 659.0M661.2 656.6L669.6 654.4L680.3 652.4M689.6 650.6L706.8 647.3" fill="none" stroke="#000" stroke-width="3.0" stroke-linecap="round" stroke-linejoin="round"/>
<rect x="142.5" y="974.5" width="12.2" height="12.2" fill="#000"/>
<rect x="179.7" y="961.3" width="12.2" height="12.2" fill="#000"/>
<rect x="216.9" y="944.1" width="12.2" height="12.2" fill="#000"/>
<rect x="254.2" y="922.5" width="12.2" height="12.2" fill="#000"/>
<rect x="291.4" y="896.1" width="12.2" height="12.2" fill="#000"/>
<rect x="328.6" y="865.8" width="12.2" height="12.2" fill="#000"/>
<rect x="365.8" y="832.5" width="12.2" height="12.2" fill="#000"/>
<rect x="403.0" y="798.4" width="12.2" height="12.2" fill="#000"/>
<rect x="440.2" y="765.3" width="12.2" height="12.2" fill="#000"/>
<rect x="477.4" y="735.3" width="12.2" height="12.2" fill="#000"/>
<rect x="514.6" y="709.2" width="12.2" height="12.2" fill="#000"/>
<rect x="551.8" y="687.9" width="12.2" height="12.2" fill="#000"/>
<rect x="589.1" y="671.0" width="12.2" height="12.2" fill="#000"/>
<rect x="626.3" y="658.0" width="12.2" height="12.2" fill="#000"/>
<rect x="663.5" y="648.3" width="12.2" height="12.2" fill="#000"/>
<rect x="700.7" y="641.2" width="12.2" height="12.2" fill="#000"/>
</g>
<g>
<path d="M849.0 975.3L868.1 966.9M877.4 962.9L884.8 959.7L896.5 953.1M905.8 947.9L922.0 938.7L924.9 936.8M934.2 930.4L953.3 917.3M962.6 910.5L981.7 895.4M991.0 888.0L996.5 883.7L1010.1 872.2M1019.4 864.4L1033.7 852.3L1038.5 848.3M1047.8 840.6L1066.9 824.6M1076.2 817.3L1095.3 802.7M1104.6 795.6L1108.1 793.0L1123.7 782.8M1133.0 776.8L1145.3 768.8L1152.1 765.3M1161.4 760.4L1180.5 750.5M1189.8 746.5L1208.9 738.9M1218.2 735.2L1219.7 734.6L1237.3 729.5M1246.6 726.8L1256.9 723.8L1265.7 721.9M1275.0 719.9L1294.1 715.9M1303.4 714.6L1322.5 711.8M1331.8 710.4L1350.9 708.5M1360.2 707.6L1368.6 706.8L1379.3 706.0M1388.6 705.3L1405.8 704.1" fill="none" stroke="#000" stroke-width="3.0" stroke-linecap="round" stroke-linejoin="round"/>
<circle cx="847.6" cy="975.9" r="6" fill="#000"/>
<circle cx="884.8" cy="959.7" r="6" fill="#000"/>
<circle cx="922.0" cy="938.7" r="6" fill="#000"/>
<circle cx="959.3" cy="913.2" r="6" fill="#000"/>
<circle cx="996.5" cy="883.7" r="6" fill="#000"/>
<circle cx="1033.7" cy="852.3" r="6" fill="#000"/>
<circle cx="1070.9" cy="821.3" r="6" fill="#000"/>
<circle cx="1108.1" cy="793.0" r="6" fill="#000"/>
<circle cx="1145.3" cy="768.8" r="6" fill="#000"/>
<circle cx="1182.5" cy="749.4" r="6" fill="#000"/>
<circle cx="1219.7" cy="734.6" r="6" fill="#000"/>
<circle cx="1256.9" cy="723.8" r="6" fill="#000"/>
<circle cx="1294.2" cy="715.9" r="6" fill="#000"/>
<circle cx="1331.4" cy="710.5" r="6" fill="#000"/>
<circle cx="1368.6" cy="706.8" r="6" fill="#000"/>
<circle cx="1405.8" cy="704.1" r="6" fill="#000"/>
<path d="M849.0 975.1L868.1 966.8M877.4 962.9L884.8 959.7L896.5 953.2M905.8 948.0L922.0 939.0L924.9 937.1M934.2 930.7L953.3 917.6M962.6 910.9L981.7 895.8M991.0 888.4L996.5 884.1L1010.1 872.5M1019.4 864.5L1033.7 852.3L1038.5 848.2M1047.8 840.2L1066.9 823.7M1076.2 816.1L1095.3 800.9M1104.6 793.4L1108.1 790.7L1123.7 779.8M1133.0 773.4L1145.3 764.9L1152.1 761.0M1161.4 755.8L1180.5 744.9M1189.8 740.6L1208.9 732.2M1218.2 728.1L1219.7 727.5L1237.3 721.7M1246.6 718.6L1256.9 715.2L1265.7 713.1M1275.0 710.9L1294.1 706.4M1303.4 704.8L1322.5 701.5M1331.8 700.0L1350.9 697.7M1360.2 696.6L1368.6 695.6L1379.3 694.7M1388.6 694.0L1405.8 692.6" fill="none" stroke="#000" stroke-width="3.0" stroke-linecap="round" stroke-linejoin="round"/>
<circle cx="847.6" cy="975.7" r="4.9" fill="#fff" stroke="#000" stroke-width="1.7"/>
<circle cx="884.8" cy="959.7" r="4.9" fill="#fff" stroke="#000" stroke-width="1.7"/>
<circle cx="922.0" cy="939.0" r="4.9" fill="#fff" stroke="#000" stroke-width="1.7"/>
<circle cx="959.3" cy="913.6" r="4.9" fill="#fff" stroke="#000" stroke-width="1.7"/>
<circle cx="996.5" cy="884.1" r="4.9" fill="#fff" stroke="#000" stroke-width="1.7"/>
<circle cx="1033.7" cy="852.3" r="4.9" fill="#fff" stroke="#000" stroke-width="1.7"/>
<circle cx="1070.9" cy="820.3" r="4.9" fill="#fff" stroke="#000" stroke-width="1.7"/>
<circle cx="1108.1" cy="790.7" r="4.9" fill="#fff" stroke="#000" stroke-width="1.7"/>
<circle cx="1145.3" cy="764.9" r="4.9" fill="#fff" stroke="#000" stroke-width="1.7"/>
<circle cx="1182.5" cy="743.8" r="4.9" fill="#fff" stroke="#000" stroke-width="1.7"/>
<circle cx="1219.7" cy="727.5" r="4.9" fill="#fff" stroke="#000" stroke-width="1.7"/>
<circle cx="1256.9" cy="715.2" r="4.9" fill="#fff" stroke="#000" stroke-width="1.7"/>
<circle cx="1294.2" cy="706.4" r="4.9" fill="#fff" stroke="#000" stroke-width="1.7"/>
<circle cx="1331.4" cy="700.0" r="4.9" fill="#fff" stroke="#000" stroke-width="1.7"/>
<circle cx="1368.6" cy="695.6" r="4.9" fill="#fff" stroke="#000" stroke-width="1.7"/>
<circle cx="1405.8" cy="692.6" r="4.9" fill="#fff" stroke="#000" stroke-width="1.7"/>
<path d="M849.0 979.4L868.1 972.2M877.4 968.8L884.8 966.0L896.5 960.3M905.8 955.8L922.0 948.0L924.9 946.3M934.2 940.7L953.3 929.2M962.6 923.3L981.7 909.6M991.0 903.0L996.5 899.1L1010.1 888.2M1019.4 880.8L1033.7 869.4L1038.5 865.4M1047.8 857.7L1066.9 841.7M1076.2 834.1L1095.3 818.6M1104.6 811.0L1108.1 808.2L1123.7 796.6M1133.0 789.6L1145.3 780.5L1152.1 776.2M1161.4 770.2L1180.5 758.0M1189.8 753.0L1208.9 743.1M1218.2 738.2L1219.7 737.4L1237.3 730.3M1246.6 726.5L1256.9 722.3L1265.7 719.7M1275.0 716.8L1294.1 711.0M1303.4 708.9L1322.5 704.6M1331.8 702.6L1350.9 699.5M1360.2 698.0L1368.6 696.6L1379.3 695.3M1388.6 694.3L1405.8 692.3" fill="none" stroke="#000" stroke-width="3.0" stroke-linecap="round" stroke-linejoin="round"/>
<path d="M840.8 975.8L854.4 975.8L847.6 987.8Z" fill="#000"/>
<path d="M878.0 961.9L891.6 961.9L884.8 973.9Z" fill="#000"/>
<path d="M915.2 943.9L928.8 943.9L922.0 955.9Z" fill="#000"/>
<path d="M952.5 921.6L966.1 921.6L959.3 933.6Z" fill="#000"/>
<path d="M989.7 895.0L1003.3 895.0L996.5 907.0Z" fill="#000"/>
<path d="M1026.9 865.3L1040.5 865.3L1033.7 877.3Z" fill="#000"/>
<path d="M1064.1 834.3L1077.7 834.3L1070.9 846.3Z" fill="#000"/>
<path d="M1101.3 804.1L1114.9 804.1L1108.1 816.1Z" fill="#000"/>
<path d="M1138.5 776.4L1152.1 776.4L1145.3 788.4Z" fill="#000"/>
<path d="M1175.7 752.7L1189.3 752.7L1182.5 764.7Z" fill="#000"/>
<path d="M1212.9 733.3L1226.5 733.3L1219.7 745.3Z" fill="#000"/>
<path d="M1250.1 718.2L1263.7 718.2L1256.9 730.2Z" fill="#000"/>
<path d="M1287.4 706.9L1301.0 706.9L1294.2 718.9Z" fill="#000"/>
<path d="M1324.6 698.5L1338.2 698.5L1331.4 710.5Z" fill="#000"/>
<path d="M1361.8 692.5L1375.4 692.5L1368.6 704.5Z" fill="#000"/>
<path d="M1399.0 688.2L1412.6 688.2L1405.8 700.2Z" fill="#000"/>
<path d="M849.0 981.2L868.1 974.7M877.4 971.5L884.8 968.9L896.5 963.7M905.8 959.6L922.0 952.3L924.9 950.7M934.2 945.5L953.3 934.7M962.6 929.1L981.7 916.0M991.0 909.7L996.5 905.9L1010.1 895.1M1019.4 887.8L1033.7 876.5L1038.5 872.2M1047.8 864.1L1066.9 847.4M1076.2 839.2L1095.3 822.0M1104.6 813.6L1108.1 810.5L1123.7 796.8M1133.0 788.6L1145.3 777.8L1152.1 772.3M1161.4 764.8L1180.5 749.5M1189.8 742.8L1208.9 729.5M1218.2 723.0L1219.7 721.9L1237.3 711.8M1246.6 706.4L1256.9 700.4L1265.7 696.4M1275.0 692.1L1294.1 683.3M1303.4 680.1L1322.5 673.4M1331.8 670.1L1350.9 665.0M1360.2 662.5L1368.6 660.3L1379.3 658.2M1388.6 656.4L1405.8 653.0" fill="none" stroke="#000" stroke-width="3.0" stroke-linecap="round" stroke-linejoin="round"/>
<path d="M847.6 974.8L853.5 985.0L841.7 985.0Z" fill="#fff" stroke="#000" stroke-width="1.6" stroke-linejoin="miter"/>
<path d="M884.8 962.0L890.7 972.2L878.9 972.2Z" fill="#fff" stroke="#000" stroke-width="1.6" stroke-linejoin="miter"/>
<path d="M922.0 945.4L927.9 955.6L916.1 955.6Z" fill="#fff" stroke="#000" stroke-width="1.6" stroke-linejoin="miter"/>
<path d="M959.3 924.5L965.2 934.7L953.4 934.7Z" fill="#fff" stroke="#000" stroke-width="1.6" stroke-linejoin="miter"/>
<path d="M996.5 899.0L1002.4 909.2L990.6 909.2Z" fill="#fff" stroke="#000" stroke-width="1.6" stroke-linejoin="miter"/>
<path d="M1033.7 869.6L1039.6 879.8L1027.8 879.8Z" fill="#fff" stroke="#000" stroke-width="1.6" stroke-linejoin="miter"/>
<path d="M1070.9 837.1L1076.8 847.3L1065.0 847.3Z" fill="#fff" stroke="#000" stroke-width="1.6" stroke-linejoin="miter"/>
<path d="M1108.1 803.6L1114.0 813.8L1102.2 813.8Z" fill="#fff" stroke="#000" stroke-width="1.6" stroke-linejoin="miter"/>
<path d="M1145.3 770.9L1151.2 781.1L1139.4 781.1Z" fill="#fff" stroke="#000" stroke-width="1.6" stroke-linejoin="miter"/>
<path d="M1182.5 741.0L1188.4 751.2L1176.6 751.2Z" fill="#fff" stroke="#000" stroke-width="1.6" stroke-linejoin="miter"/>
<path d="M1219.7 715.0L1225.6 725.2L1213.8 725.2Z" fill="#fff" stroke="#000" stroke-width="1.6" stroke-linejoin="miter"/>
<path d="M1256.9 693.5L1262.8 703.7L1251.0 703.7Z" fill="#fff" stroke="#000" stroke-width="1.6" stroke-linejoin="miter"/>
<path d="M1294.2 676.4L1300.1 686.6L1288.3 686.6Z" fill="#fff" stroke="#000" stroke-width="1.6" stroke-linejoin="miter"/>
<path d="M1331.4 663.3L1337.3 673.5L1325.5 673.5Z" fill="#fff" stroke="#000" stroke-width="1.6" stroke-linejoin="miter"/>
<path d="M1368.6 653.4L1374.5 663.6L1362.7 663.6Z" fill="#fff" stroke="#000" stroke-width="1.6" stroke-linejoin="miter"/>
<path d="M1405.8 646.1L1411.7 656.3L1399.9 656.3Z" fill="#fff" stroke="#000" stroke-width="1.6" stroke-linejoin="miter"/>
<path d="M849.0 983.8L868.1 977.7M877.4 974.8L884.8 972.4L896.5 967.6M905.8 963.7L922.0 956.9L924.9 955.4M934.2 950.5L953.3 940.4M962.6 935.0L981.7 922.4M991.0 916.3L996.5 912.7L1010.1 901.9M1019.4 894.6L1033.7 883.4L1038.5 879.1M1047.8 870.8L1066.9 853.8M1076.2 845.2L1095.3 826.9M1104.6 817.9L1108.1 814.6L1123.7 799.4M1133.0 790.3L1145.3 778.4L1152.1 772.0M1161.4 763.4L1180.5 745.5M1189.8 737.5L1208.9 721.3M1218.2 713.5L1219.7 712.2L1237.3 699.5M1246.6 692.7L1256.9 685.2L1265.7 680.0M1275.0 674.4L1294.1 663.0M1303.4 658.6L1322.5 649.5M1331.8 645.1L1350.9 638.2M1360.2 634.8L1368.6 631.7L1379.3 628.7M1388.6 626.2L1405.8 621.4" fill="none" stroke="#000" stroke-width="3.0" stroke-linecap="round" stroke-linejoin="round"/>
<rect x="841.5" y="978.1" width="12.2" height="12.2" fill="#000"/>
<rect x="878.7" y="966.3" width="12.2" height="12.2" fill="#000"/>
<rect x="915.9" y="950.8" width="12.2" height="12.2" fill="#000"/>
<rect x="953.2" y="931.1" width="12.2" height="12.2" fill="#000"/>
<rect x="990.4" y="906.6" width="12.2" height="12.2" fill="#000"/>
<rect x="1027.6" y="877.3" width="12.2" height="12.2" fill="#000"/>
<rect x="1064.8" y="844.2" width="12.2" height="12.2" fill="#000"/>
<rect x="1102.0" y="808.5" width="12.2" height="12.2" fill="#000"/>
<rect x="1139.2" y="772.3" width="12.2" height="12.2" fill="#000"/>
<rect x="1176.4" y="737.6" width="12.2" height="12.2" fill="#000"/>
<rect x="1213.6" y="706.1" width="12.2" height="12.2" fill="#000"/>
<rect x="1250.8" y="679.1" width="12.2" height="12.2" fill="#000"/>
<rect x="1288.1" y="656.9" width="12.2" height="12.2" fill="#000"/>
<rect x="1325.3" y="639.2" width="12.2" height="12.2" fill="#000"/>
<rect x="1362.5" y="625.6" width="12.2" height="12.2" fill="#000"/>
<rect x="1399.7" y="615.3" width="12.2" height="12.2" fill="#000"/>
</g>
<g font-size="28.1">
<path d="M1223.8 854.2L1242.9 854.2M1252.2 854.2L1271.3 854.2M1280.6 854.2L1299.7 854.2" fill="none" stroke="#000" stroke-width="3.0" stroke-linecap="round" stroke-linejoin="round"/>
<circle cx="1266.0" cy="854.2" r="6" fill="#000"/>
<text x="1330" y="863.7">ZD2</text>
<path d="M1223.8 886.7L1242.9 886.7M1252.2 886.7L1271.3 886.7M1280.6 886.7L1299.7 886.7" fill="none" stroke="#000" stroke-width="3.0" stroke-linecap="round" stroke-linejoin="round"/>
<circle cx="1266.0" cy="886.7" r="4.9" fill="#fff" stroke="#000" stroke-width="1.7"/>
<text x="1330" y="896.2">DY13</text>
<path d="M1223.8 919.2L1242.9 919.2M1252.2 919.2L1271.3 919.2M1280.6 919.2L1299.7 919.2" fill="none" stroke="#000" stroke-width="3.0" stroke-linecap="round" stroke-linejoin="round"/>
<path d="M1259.2 915.1L1272.8 915.1L1266.0 927.1Z" fill="#000"/>
<text x="1330" y="928.7">YD13</text>
<path d="M1223.8 951.6L1242.9 951.6M1252.2 951.6L1271.3 951.6M1280.6 951.6L1299.7 951.6" fill="none" stroke="#000" stroke-width="3.0" stroke-linecap="round" stroke-linejoin="round"/>
<path d="M1266.0 944.7L1271.9 954.9L1260.1 954.9Z" fill="#fff" stroke="#000" stroke-width="1.6" stroke-linejoin="miter"/>
<text x="1330" y="961.1">XY335</text>
<path d="M1223.8 984.1L1242.9 984.1M1252.2 984.1L1271.3 984.1M1280.6 984.1L1299.7 984.1" fill="none" stroke="#000" stroke-width="3.0" stroke-linecap="round" stroke-linejoin="round"/>
<rect x="1259.9" y="978.0" width="12.2" height="12.2" fill="#000"/>
<text x="1330" y="993.6">DH618</text>
</g>
</svg></body></html>
